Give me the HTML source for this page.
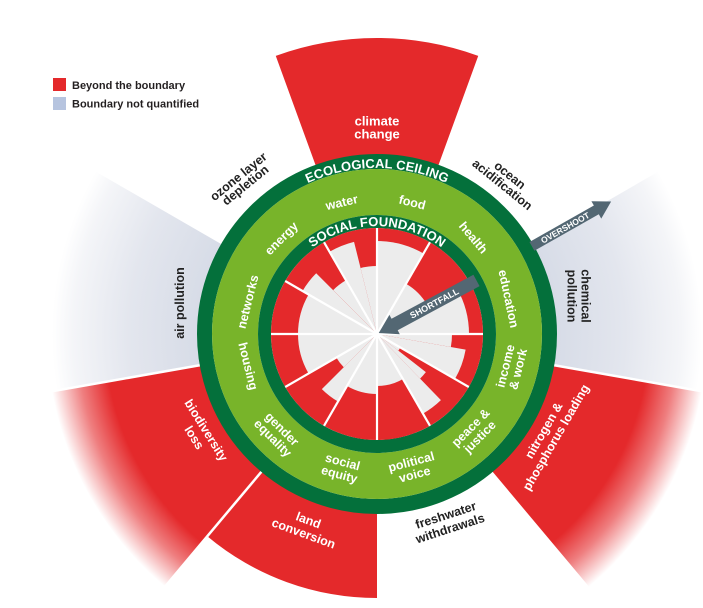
<!DOCTYPE html>
<html><head><meta charset="utf-8"><style>
html,body{margin:0;padding:0;background:#fff;width:703px;height:608px;overflow:hidden;}
svg{display:block;}
text{font-family:"Liberation Sans",Arial,sans-serif;}
</style></head><body>
<svg width="703" height="608" viewBox="0 0 703 608" xmlns="http://www.w3.org/2000/svg">
<defs>
<radialGradient id="rf" gradientUnits="userSpaceOnUse" cx="377" cy="334" r="335">
 <stop offset="0" stop-color="#e4292b"/>
 <stop offset="0.812" stop-color="#e4292b"/>
 <stop offset="0.896" stop-color="#e4292b" stop-opacity="0.6"/>
 <stop offset="0.985" stop-color="#e4292b" stop-opacity="0"/>
</radialGradient>
<radialGradient id="gf" gradientUnits="userSpaceOnUse" cx="377" cy="334" r="335">
 <stop offset="0" stop-color="#d7dce7"/>
 <stop offset="0.537" stop-color="#d7dce7"/>
 <stop offset="0.74" stop-color="#e3e6ee"/>
 <stop offset="0.907" stop-color="#f4f5f8"/>
 <stop offset="0.97" stop-color="#ffffff"/>
</radialGradient>
<path id="ec" d="M270.3,206.8 A166,166 0 0 1 483.7,206.8"/>
<path id="sf" d="M294.3,264.6 A108,108 0 0 1 459.7,264.6"/>
</defs>

<!-- legend -->
<rect x="53" y="78" width="13" height="13" fill="#e4292b"/>
<rect x="53" y="97" width="13" height="13" fill="#b6c4df"/>
<text x="72" y="89" font-size="11" font-weight="bold" fill="#231f20">Beyond the boundary</text>
<text x="72" y="107.5" font-size="11" font-weight="bold" fill="#231f20">Boundary not quantified</text>

<!-- outer wedges -->
<path fill="url(#gf)" d="M528.55,246.5 L658.45,171.5 A325,325 0 0 1 697.06,390.42 L549.34,364.38 A175,175 0 0 0 528.55,246.5 Z"/>
<path fill="url(#gf)" d="M204.66,364.38 L56.94,390.42 A325,325 0 0 1 95.55,171.5 L225.45,246.5 A175,175 0 0 0 204.66,364.38 Z"/>
<path fill="url(#rf)" d="M549.34,364.38 L701.98,391.29 A330,330 0 0 1 589.12,586.78 L489.49,468.05 A175,175 0 0 0 549.34,364.38 Z"/>
<path fill="url(#rf)" d="M264.51,468.05 L164.88,586.78 A330,330 0 0 1 52.02,391.29 L204.66,364.38 A175,175 0 0 0 264.51,468.05 Z"/>
<path fill="#e4292b" d="M317.15,169.55 L275.77,55.85 A296,296 0 0 1 478.23,55.85 L436.85,169.55 A175,175 0 0 0 317.15,169.55 Z"/>
<path fill="#e4292b" d="M377,509 L377,598 A264,264 0 0 1 207.3,536.22 L264.51,468.05 A175,175 0 0 0 377,509 Z"/>
<!-- separators -->
<g stroke="#fff" stroke-width="2.5">
 <line x1="549.34" y1="364.38" x2="701.98" y2="391.29"/>
 <line x1="264.51" y1="468.05" x2="164.88" y2="586.78"/>
 <line x1="204.66" y1="364.38" x2="52.02" y2="391.29"/>
</g>

<!-- rings -->
<g fill="none">
 <circle cx="377" cy="334" r="172.5" stroke="#04703b" stroke-width="15"/>
 <circle cx="377" cy="334" r="142" stroke="#78b42a" stroke-width="46"/>
 <circle cx="377" cy="334" r="112.5" stroke="#04703b" stroke-width="13"/>
</g>
<circle cx="377" cy="334" r="106" fill="#e4292b"/>

<!-- social gray wedges -->
<g fill="#ececec">
 <path d="M377,334 L329.5,251.73 A95,95 0 0 1 354.02,241.82 Z"/>
 <path d="M377,334 L360.55,268.02 A68,68 0 0 1 377,266 Z"/>
 <path d="M377,334 L377,241 A93,93 0 0 1 423.5,253.46 Z"/>
 <path d="M377,334 L406,283.77 A58,58 0 0 1 427.23,305 Z"/>
 <path d="M377,334 L456.67,288 A92,92 0 0 1 469,334 Z"/>
 <path d="M377,334 L452,334 A75,75 0 0 1 450.86,347.02 Z"/>
 <path d="M377,334 L465.63,349.62 A90,90 0 0 1 454.94,379 Z"/>
 <path d="M377,334 L400.38,347.5 A27,27 0 0 1 398.28,350.62 Z"/>
 <path d="M377,334 L425.86,372.17 A62,62 0 0 1 420.07,378.6 Z"/>
 <path d="M377,334 L440.91,400.18 A92,92 0 0 1 423,413.67 Z"/>
 <path d="M377,334 L403,379.03 A52,52 0 0 1 377,386 Z"/>
 <path d="M377,334 L377,394 A60,60 0 0 1 347,385.96 Z"/>
 <path d="M377,334 L338,401.55 A78,78 0 0 1 321.85,389.15 Z"/>
 <path d="M377,334 L343.77,367.23 A47,47 0 0 1 336.3,357.5 Z"/>
 <path d="M377,334 L308.58,373.5 A79,79 0 0 1 298,334 Z"/>
 <path d="M377,334 L298,334 A79,79 0 0 1 308.58,294.5 Z"/>
 <path d="M377,334 L302.52,291 A86,86 0 0 1 316.19,273.19 Z"/>
 <path d="M377,334 L333.16,290.16 A62,62 0 0 1 346,280.31 Z"/>
</g>

<g transform="translate(377,334)" fill="none">
 <!-- white spokes -->
 <g stroke="#fff" stroke-width="2.2">
  <line x1="0" y1="0" x2="0" y2="-106" transform="rotate(0)"/>
  <line x1="0" y1="0" x2="0" y2="-106" transform="rotate(30)"/>
  <line x1="0" y1="0" x2="0" y2="-106" transform="rotate(60)"/>
  <line x1="0" y1="0" x2="0" y2="-106" transform="rotate(90)"/>
  <line x1="0" y1="0" x2="0" y2="-106" transform="rotate(120)"/>
  <line x1="0" y1="0" x2="0" y2="-106" transform="rotate(150)"/>
  <line x1="0" y1="0" x2="0" y2="-106" transform="rotate(180)"/>
  <line x1="0" y1="0" x2="0" y2="-106" transform="rotate(210)"/>
  <line x1="0" y1="0" x2="0" y2="-106" transform="rotate(240)"/>
  <line x1="0" y1="0" x2="0" y2="-106" transform="rotate(270)"/>
  <line x1="0" y1="0" x2="0" y2="-106" transform="rotate(300)"/>
  <line x1="0" y1="0" x2="0" y2="-106" transform="rotate(330)"/>
 </g>
 <!-- shortfall arrow -->
 <g transform="rotate(-28.3)">
  <polygon fill="#536773" points="113,-6.5 20,-6.5 20,-11 2,0 20,11 20,6.5 113,6.5"/>
  <text x="65" y="3.3" font-size="9" font-weight="bold" fill="#fff" text-anchor="middle">SHORTFALL</text>
 </g>
 <!-- overshoot arrow -->
 <g transform="rotate(-29.5)">
  <polygon fill="#536773" points="178,-5 252,-5 252,-10 269,0 252,10 252,5 178,5"/>
  <text x="216" y="3.2" font-size="8.5" font-weight="bold" fill="#fff" text-anchor="middle">OVERSHOOT</text>
 </g>
</g>

<!-- ring texts -->
<text font-size="13" font-weight="bold" fill="#fff" text-anchor="middle"><textPath href="#ec" startOffset="50%">ECOLOGICAL CEILING</textPath></text>
<text font-size="13" font-weight="bold" fill="#fff" text-anchor="middle"><textPath href="#sf" startOffset="50%">SOCIAL FOUNDATION</textPath></text>

<!-- inner labels -->
<g fill="#fff" font-weight="bold" font-size="12.5" text-anchor="middle">
 <text transform="translate(341.8,202.6) rotate(-13)" y="4">water</text>
 <text transform="translate(412.2,202.6) rotate(14)" y="4">food</text>
 <text transform="translate(473.2,237.8) rotate(50)" y="4">health</text>
 <text transform="translate(508.4,298.8) rotate(78)" y="4">education</text>
 <g transform="translate(511.9,367.6) rotate(-76)"><text y="-2.5">income</text><text y="10.5">&amp; work</text></g>
 <g transform="translate(475.3,432.3) rotate(-45)"><text y="-2.5">peace &amp;</text><text y="10.5">justice</text></g>
 <g transform="translate(413,468.3) rotate(-15)"><text y="-2.5">political</text><text y="10.5">voice</text></g>
 <g transform="translate(341,468.3) rotate(15)"><text y="-2.5">social</text><text y="10.5">equity</text></g>
 <g transform="translate(277.3,433.7) rotate(45)"><text y="-2.5">gender</text><text y="10.5">equality</text></g>
 <text transform="translate(248,366.2) rotate(76)" y="4">housing</text>
 <text transform="translate(248,301.8) rotate(-76)" y="4">networks</text>
 <text transform="translate(281.5,238.5) rotate(-45)" y="4">energy</text>
</g>

<!-- outer labels -->
<g font-weight="bold" font-size="12.5" text-anchor="middle">
 <g fill="#fff" font-size="13"><text x="377" y="125.5">climate</text><text x="377" y="138.5">change</text></g>
 <g fill="#222" transform="translate(242,181) rotate(-39)"><text y="-1.5">ozone layer</text><text y="9.5">depletion</text></g>
 <g fill="#222" transform="translate(506,180) rotate(39)"><text y="-2">ocean</text><text y="10">acidification</text></g>
 <text fill="#222" transform="translate(180,303) rotate(-90)" y="4">air pollution</text>
 <g fill="#222" transform="translate(578,296) rotate(90)"><text y="-3.5">chemical</text><text y="10.5">pollution</text></g>
 <g fill="#fff" transform="translate(550,434) rotate(-60)"><text y="-3">nitrogen &amp;</text><text y="11">phosphorus loading</text></g>
 <g fill="#222" transform="translate(448,522) rotate(-18)"><text y="-3">freshwater</text><text y="11">withdrawals</text></g>
 <g fill="#fff" transform="translate(306,527) rotate(20)"><text y="-3">land</text><text y="11">conversion</text></g>
 <g fill="#fff" transform="translate(200,434) rotate(58)"><text y="-3">biodiversity</text><text y="11">loss</text></g>
</g>
</svg>
</body></html>
